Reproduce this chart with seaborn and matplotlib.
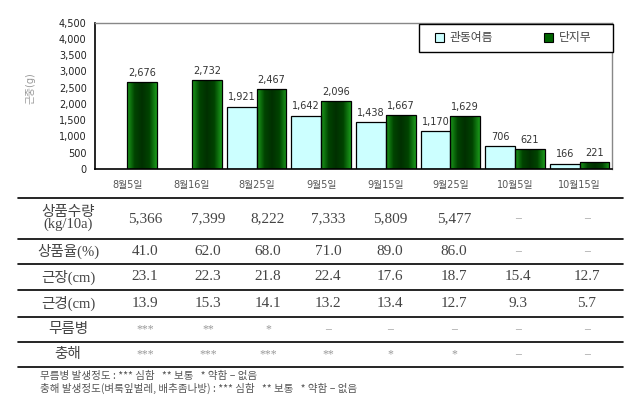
import numpy as np
import pandas as pd
import matplotlib.pyplot as plt
import seaborn as sns
from matplotlib.patches import Patch, Rectangle
from matplotlib.lines import Line2D
from matplotlib.colors import LinearSegmentedColormap

# ----------------------------
# Data
# ----------------------------
dates = ["8월5일", "8월16일", "8월25일", "9월5일", "9월15일", "9월25일", "10월5일", "10월15일"]
series = ["관동여름", "단지무"]
kwandong = [np.nan, np.nan, 1921, 1642, 1438, 1170, 706, 166]
danji = [2676, 2732, 2467, 2096, 1667, 1629, 621, 221]

row_labels = ["상품수량\n(kg/10a)", "상품율(%)", "근장(cm)", "근경(cm)", "무름병", "충해"]
yield_vals = ["5,366", "7,399", "8,222", "7,333", "5,809", "5,477", "–", "–"]
rate_vals = ["41.0", "62.0", "68.0", "71.0", "89.0", "86.0", "–", "–"]
length_vals = ["23.1", "22.3", "21.8", "22.4", "17.6", "18.7", "15.4", "12.7"]
diam_vals = ["13.9", "15.3", "14.1", "13.2", "13.4", "12.7", "9.3", "5.7"]
rot_vals = ["***", "**", "*", "–", "–", "–", "–", "–"]
pest_vals = ["***", "***", "***", "**", "*", "*", "–", "–"]
table_rows = [yield_vals, rate_vals, length_vals, diam_vals, rot_vals, pest_vals]

notes = ["무름병 발생정도 : *** 심함   ** 보통   * 약함 – 없음",
         "충해 발생정도(벼룩잎벌레, 배추좀나방) : *** 심함   ** 보통   * 약함 – 없음"]

df = pd.DataFrame({
    "date": dates * 2,
    "variety": [series[0]] * len(dates) + [series[1]] * len(dates),
    "weight": kwandong + danji,
})

LIGHT = "#CCFFFF"
GREEN = "#006400"

# ----------------------------
# Figure
# ----------------------------
sns.set_style("white")
plt.rcParams["font.family"] = ["DejaVu Sans", "Noto Sans CJK KR"]

W, H = 644, 403
fig = plt.figure(figsize=(W / 100, H / 100), dpi=100)
ax = fig.add_axes([95 / W, 1 - 169 / H, (612 - 95) / W, (169 - 22.7) / H])

sns.barplot(data=df, x="date", y="weight", hue="variety", order=dates,
            hue_order=series, palette=[LIGHT, GREEN], width=0.92,
            edgecolor="black", linewidth=0.9, saturation=1, ax=ax, legend=False)

# cylinder-like shading on the green bars
cmap = LinearSegmentedColormap.from_list("g", ["#1b9a1b", "#004400", "#003000", "#004400", "#1b9a1b"])
grad = np.linspace(0, 1, 64).reshape(1, -1)
for p in ax.containers[1]:
    if np.isnan(p.get_height()):
        continue
    x0, y0 = p.get_x(), p.get_y()
    im = ax.imshow(grad, cmap=cmap, aspect="auto", zorder=p.get_zorder() - 0.1,
                   extent=[x0, x0 + p.get_width(), y0, y0 + p.get_height()])
    im.set_clip_path(p)
    p.set_facecolor("none")

ax.set_xlim(-0.5, len(dates) - 0.5)
ax.set_ylim(0, 4500)
ax.set_yticks(range(0, 4501, 500))
ax.set_yticklabels([f"{v:,}" for v in range(0, 4501, 500)], fontsize=7, color="#222")
ax.set_xticks(range(len(dates)))
ax.set_xticklabels(dates, fontsize=7, color="#555")
ax.set_xticks(np.arange(0.5, len(dates) - 0.5, 1), minor=True)
ax.tick_params(axis="x", which="major", length=0, pad=8)
ax.tick_params(axis="x", which="minor", length=3, direction="in", width=1)
ax.tick_params(axis="y", length=0, pad=6)
ax.set_xlabel("")
ax.set_ylabel("")

for side in ["left", "bottom"]:
    ax.spines[side].set_color("black")
    ax.spines[side].set_linewidth(1.2)
for side in ["top", "right"]:
    ax.spines[side].set_color("#888")
    ax.spines[side].set_linewidth(1)

for cont in ax.containers:
    for p in cont:
        h = p.get_height()
        if np.isnan(h):
            continue
        ax.annotate(f"{int(h):,}", (p.get_x() + p.get_width() / 2, h),
                    xytext=(0, 3), textcoords="offset points",
                    ha="center", va="bottom", fontsize=7, color="#333")

fig.text(30 / W, 1 - 88 / H, "근중(g)", rotation=90, ha="center", va="center",
         fontsize=7, color="#999")

# legend: box drawn separately so it can be wider than the entries
fig.add_artist(Rectangle((419 / W, 1 - 52 / H), 194 / W, 28 / H, transform=fig.transFigure,
                         facecolor="white", edgecolor="black", lw=1.0, zorder=3))
handles = [Patch(facecolor=LIGHT, edgecolor="black", linewidth=0.8),
           Patch(facecolor=GREEN, edgecolor="black", linewidth=0.8)]
leg = fig.legend(handles, series, loc="center", bbox_to_anchor=(513 / W, 1 - 38 / H),
                 ncol=2, fontsize=8.5, frameon=False,
                 handlelength=0.75, handleheight=0.75, handletextpad=0.5, columnspacing=4.3,
                 labelcolor="#444")
leg.set_zorder(4)

# ----------------------------
# Table under the chart
# ----------------------------
line_y = [198, 238.7, 264, 290, 316.7, 341.7, 367]
col_x = [145, 208, 268, 328, 390, 454, 518, 587]
tfont = ["Liberation Serif", "Noto Sans CJK KR"]

for y in line_y:
    fig.add_artist(Line2D([18 / W, 623 / W], [1 - y / H, 1 - y / H],
                          color="black", lw=1.2, transform=fig.transFigure))

for i, (lab, vals) in enumerate(zip(row_labels, table_rows)):
    yc = 1 - (line_y[i] + line_y[i + 1]) / 2 / H
    fig.text(68 / W, yc, lab, ha="center", va="center", fontsize=10.5,
             color="#444", family=tfont, linespacing=0.9)
    for x, v in zip(col_x, vals):
        small = v.startswith("*") or v == "–"
        fig.text(x / W, yc, v, ha="center", va="center",
                 fontsize=8.5 if small else 11, color="#999" if small else "#444",
                 family=tfont)

for j, n in enumerate(notes):
    fig.text(40 / W, 1 - (376 + j * 12.5) / H, n, ha="left", va="center",
             fontsize=7.6, color="#555", family=["Noto Sans CJK KR", "DejaVu Sans"])

fig.savefig("out.png", dpi=100)
